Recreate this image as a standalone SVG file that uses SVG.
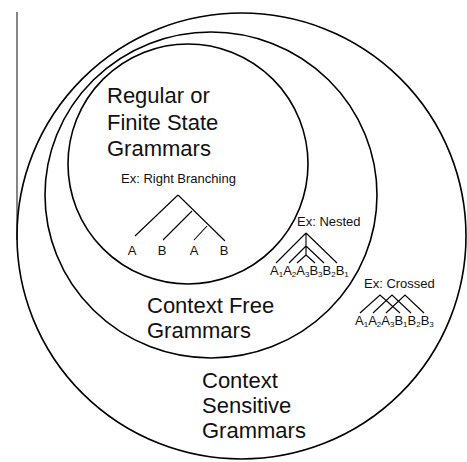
<svg xmlns="http://www.w3.org/2000/svg" width="467" height="462" viewBox="0 0 467 462">
<style>
.c{fill:none;stroke:#000;stroke-width:1.6}
.t{stroke:#000;stroke-width:1.1;fill:none}
.big{font-family:"Liberation Sans",Arial,sans-serif;font-size:22px;fill:#111}
.sm{font-family:"Liberation Sans",Arial,sans-serif;font-size:13px;fill:#111}
.sub{font-size:8px}
</style>
<rect width="467" height="462" fill="#fff"/>
<line x1="17" y1="12" x2="17" y2="240" stroke="#444" stroke-width="1.3"/>
<g id="context-sensitive">
<ellipse class="c" cx="241.5" cy="236" rx="224.5" ry="223"/>
<text class="big" x="202" y="388">Context</text>
<text class="big" x="202" y="413">Sensitive</text>
<text class="big" x="202" y="438">Grammars</text>
</g>
<g id="context-free">
<ellipse class="c" cx="211" cy="195" rx="166" ry="163"/>
<text class="big" x="147" y="313">Context Free</text>
<text class="big" x="147" y="338">Grammars</text>
</g>
<g id="regular">
<circle class="c" cx="188" cy="164" r="120"/>
<text class="big" x="107" y="103">Regular or</text>
<text class="big" x="107" y="130">Finite State</text>
<text class="big" x="107" y="156">Grammars</text>
</g>
<g id="right-branching">
<text class="sm" x="121" y="183">Ex: Right Branching</text>
<path class="t" d="M178,195 L135,236 M178,195 L225,241 M192,211 L163,240 M207,226 L194,240"/>
<text class="sm" x="132" y="255" text-anchor="middle">A</text>
<text class="sm" x="162" y="255" text-anchor="middle">B</text>
<text class="sm" x="194" y="255" text-anchor="middle">A</text>
<text class="sm" x="224" y="255" text-anchor="middle">B</text>
</g>
<g id="nested">
<text class="sm" x="297" y="226">Ex: Nested</text>
<path class="t" d="M306,233 L276,263 M306,233 L337,263 M306,233 L306,256 M306,246 L289,263 M306,246 L324,263 M306,255 L297,263 M306,255 L315,263"/>
<text class="sm" x="270" y="275">A<tspan class="sub" dy="2">1</tspan><tspan dy="-2">A</tspan><tspan class="sub" dy="2">2</tspan><tspan dy="-2">A</tspan><tspan class="sub" dy="2">3</tspan><tspan dy="-2">B</tspan><tspan class="sub" dy="2">3</tspan><tspan dy="-2">B</tspan><tspan class="sub" dy="2">2</tspan><tspan dy="-2">B</tspan><tspan class="sub" dy="2">1</tspan></text>
</g>
<g id="crossed">
<text class="sm" x="364" y="288">Ex: Crossed</text>
<path class="t" d="M360,313 L380,295 L400,313 M373,313 L392,295 L411,313 M386,313 L405,295 L424,313"/>
<text class="sm" x="355" y="325">A<tspan class="sub" dy="2">1</tspan><tspan dy="-2">A</tspan><tspan class="sub" dy="2">2</tspan><tspan dy="-2">A</tspan><tspan class="sub" dy="2">3</tspan><tspan dy="-2">B</tspan><tspan class="sub" dy="2">1</tspan><tspan dy="-2">B</tspan><tspan class="sub" dy="2">2</tspan><tspan dy="-2">B</tspan><tspan class="sub" dy="2">3</tspan></text>
</g>
</svg>
